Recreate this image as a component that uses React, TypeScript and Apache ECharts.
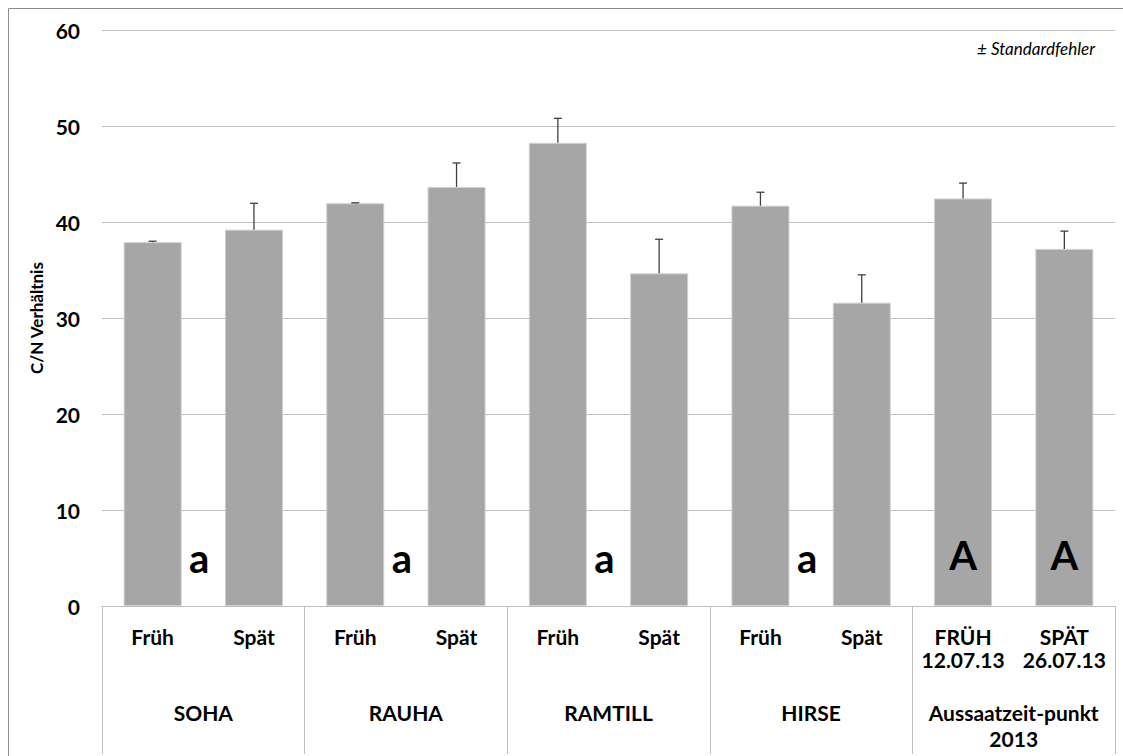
import React, { useEffect, useRef } from "react";
import * as echarts from "echarts";

const categories = ["Früh", "Spät", "Früh", "Spät", "Früh", "Spät", "Früh", "Spät", "FRÜH\n12.07.13", "SPÄT\n26.07.13"];
const groups = ["SOHA", "RAUHA", "RAMTILL", "HIRSE", "Aussaatzeit-punkt\n2013"];
const values = [37.9, 39.2, 41.95, 43.65, 48.25, 34.65, 41.7, 31.6, 42.45, 37.2];
const errors = [0.1, 2.75, 0.05, 2.5, 2.55, 3.55, 1.4, 2.9, 1.6, 1.85];
const letterText = ["a", "a", "a", "a", "A", "A"];
const letterX = [0.96, 2.96, 4.96, 6.96, 8.5, 9.5];
const letterY = [5, 5, 5, 5, 5.3, 5.3];
const yTicks = [0, 10, 20, 30, 40, 50, 60];

const FONT = "Lato, 'Open Sans', sans-serif";

export default function App() {
  const ref = useRef<HTMLDivElement>(null);
  useEffect(() => {
    if (!ref.current) return;
    const chart = echarts.init(ref.current, undefined, { renderer: "svg" });
    chart.setOption({
      animation: false,
      backgroundColor: "#ffffff",
      textStyle: { fontFamily: FONT },
      title: {
        text: "± Standardfehler",
        right: 23,
        top: 35,
        textStyle: { fontFamily: FONT, fontSize: 17, fontStyle: "italic", fontWeight: "normal", color: "#000" },
      },
      graphic: [
        {
          type: "rect",
          shape: { x: 8.5, y: 8.5, width: 1300, height: 900 },
          style: { fill: "none", stroke: "#8c8c8c", lineWidth: 1 },
          silent: true,
          z: -10,
        },
      ],
      grid: { left: 102, right: 8, top: 30, bottom: 150 },
      xAxis: [
        {
          type: "category",
          data: categories,
          position: "bottom",
          axisLine: { show: true, lineStyle: { color: "#bfbfbf", width: 1 } },
          axisTick: { show: false },
          axisLabel: {
            interval: 0,
            margin: 19,
            fontFamily: FONT,
            fontSize: 21,
            fontWeight: "bold",
            color: "#000",
            lineHeight: 23,
          },
        },
        {
          type: "category",
          data: groups,
          position: "bottom",
          axisLine: { show: false },
          axisTick: { show: true, interval: 0, length: 148, lineStyle: { color: "#bfbfbf", width: 1 } },
          axisLabel: {
            interval: 0,
            margin: 93,
            fontFamily: FONT,
            fontSize: 21,
            fontWeight: "bold",
            color: "#000",
            lineHeight: 26,
          },
        },
        { type: "value", min: 0, max: 10, show: false },
      ],
      yAxis: {
        type: "value",
        min: 0,
        max: 60,
        interval: 10,
        name: "C/N Verhältnis",
        nameLocation: "middle",
        nameGap: 53,
        nameTextStyle: { fontFamily: FONT, fontSize: 17, fontWeight: "bold", color: "#000" },
        axisLine: { show: false },
        axisTick: { show: false },
        axisLabel: {
          margin: 22,
          fontFamily: FONT,
          fontSize: 21,
          fontWeight: "bold",
          color: "#000",
          formatter: (v: number) => (yTicks.includes(v) ? String(v) : ""),
        },
        splitLine: { show: true, lineStyle: { color: "#c0c0c0", width: 1 } },
      },
      series: [
        {
          type: "bar",
          xAxisIndex: 0,
          data: values,
          barWidth: 58,
          itemStyle: { color: "#a6a6a6", borderColor: "#cfcfcf", borderWidth: 1 },
          silent: true,
        },
        {
          type: "custom",
          xAxisIndex: 0,
          data: values.map((v, i) => [i, v, errors[i]]),
          encode: { x: 0, y: 1 },
          renderItem: (params: any, api: any) => {
            const i = api.value(0);
            const v = api.value(1);
            const e = api.value(2);
            const base = api.coord([i, v]);
            const top = api.coord([i, v + e]);
            const st = { stroke: "#404040", lineWidth: 1.3 };
            return {
              type: "group",
              children: [
                { type: "line", shape: { x1: base[0], y1: base[1], x2: top[0], y2: top[1] }, style: st },
                { type: "line", shape: { x1: top[0] - 4, y1: top[1], x2: top[0] + 4, y2: top[1] }, style: st },
              ],
            };
          },
          z: 5,
          silent: true,
        },
        {
          type: "scatter",
          xAxisIndex: 2,
          symbolSize: 0,
          itemStyle: { opacity: 1 },
          data: letterX.map((x, i) => [x, letterY[i], letterText[i]]),
          label: {
            show: true,
            position: "inside",
            formatter: (p: any) => p.value[2],
            fontFamily: FONT,
            fontSize: 40,
            fontWeight: "bold",
            color: "#000",
            opacity: 1,
            textBorderWidth: 0,
            textBorderColor: "transparent",
          },
          z: 6,
          silent: true,
        },
      ],
    });
    return () => chart.dispose();
  }, []);
  return <div ref={ref} style={{ position: "fixed", left: 0, top: 0, width: 1123, height: 756 }} />;
}
